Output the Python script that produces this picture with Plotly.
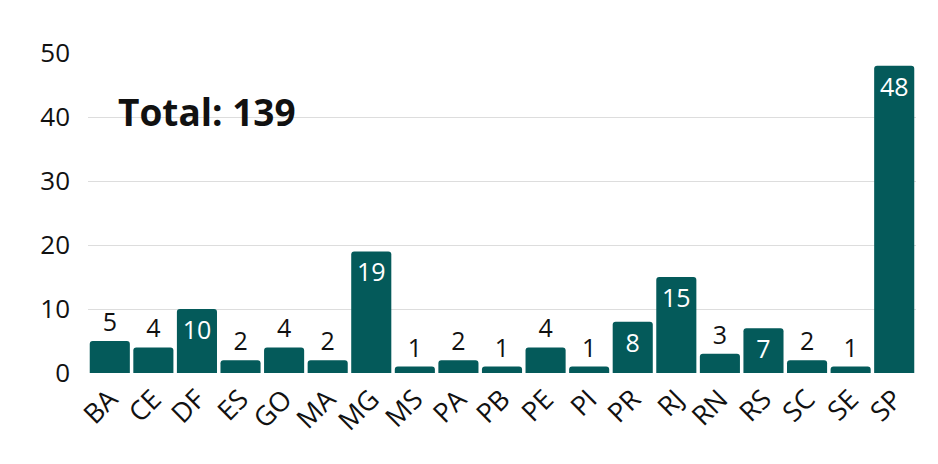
import plotly.graph_objects as go

estados = ["BA", "CE", "DF", "ES", "GO", "MA", "MG", "MS", "PA", "PB",
           "PE", "PI", "PR", "RJ", "RN", "RS", "SC", "SE", "SP"]
valores = [5, 4, 10, 2, 4, 2, 19, 1, 2, 1, 4, 1, 8, 15, 3, 7, 2, 1, 48]
y_ticks = [0, 10, 20, 30, 40, 50]
total_label = "Total: 139"

BAR = "#045a5a"
FONT = "Open Sans"

positions = ["inside" if v >= 7 else "outside" for v in valores]

fig = go.Figure(go.Bar(
    x=estados, y=valores,
    text=[str(v) for v in valores],
    textposition=positions,
    insidetextanchor="end",
    insidetextfont=dict(color="white", size=25, family=FONT),
    outsidetextfont=dict(color="#111111", size=25, family=FONT),
    constraintext="none",
    cliponaxis=False,
    marker=dict(color=BAR, line=dict(width=0)),
    hoverinfo="x+y",
))

# page body adds an 8px offset; positions below are in figure pixels
L, R, T, B = 80, 30, 45, 99
W, H = 938, 464
pw, ph = W - L - R, H - T - B

def px_x(p):
    return (p - L) / pw

def px_y(p):
    return (H - B - p) / ph

fig.add_annotation(text="<b>" + total_label + "</b>", xref="paper", yref="paper",
                   x=px_x(199), y=px_y(104), showarrow=False,
                   font=dict(size=37, color="#111111", family=FONT),
                   xanchor="center", yanchor="middle")

fig.update_layout(
    width=W, height=H,
    margin=dict(l=L, r=R, t=T, b=B, autoexpand=False),
    paper_bgcolor="white",
    plot_bgcolor="rgba(0,0,0,0)",
    bargap=0.08,
    barcornerradius=3,
    font=dict(family=FONT, size=25, color="#111111"),
    showlegend=False,
    xaxis=dict(tickangle=-45, showgrid=False, showline=False, ticks="",
               automargin=False, ticklabelstandoff=4,
               tickfont=dict(size=27, family=FONT, color="#111111")),
    yaxis=dict(range=[0, 50], tickvals=y_ticks, showgrid=True,
               gridcolor="#dddddd", gridwidth=1, zeroline=False,
               showline=False, ticks="", ticklabelstandoff=17,
               automargin=False,
               tickfont=dict(size=26, family=FONT, color="#111111")),
)

fig.write_html("out.html")
